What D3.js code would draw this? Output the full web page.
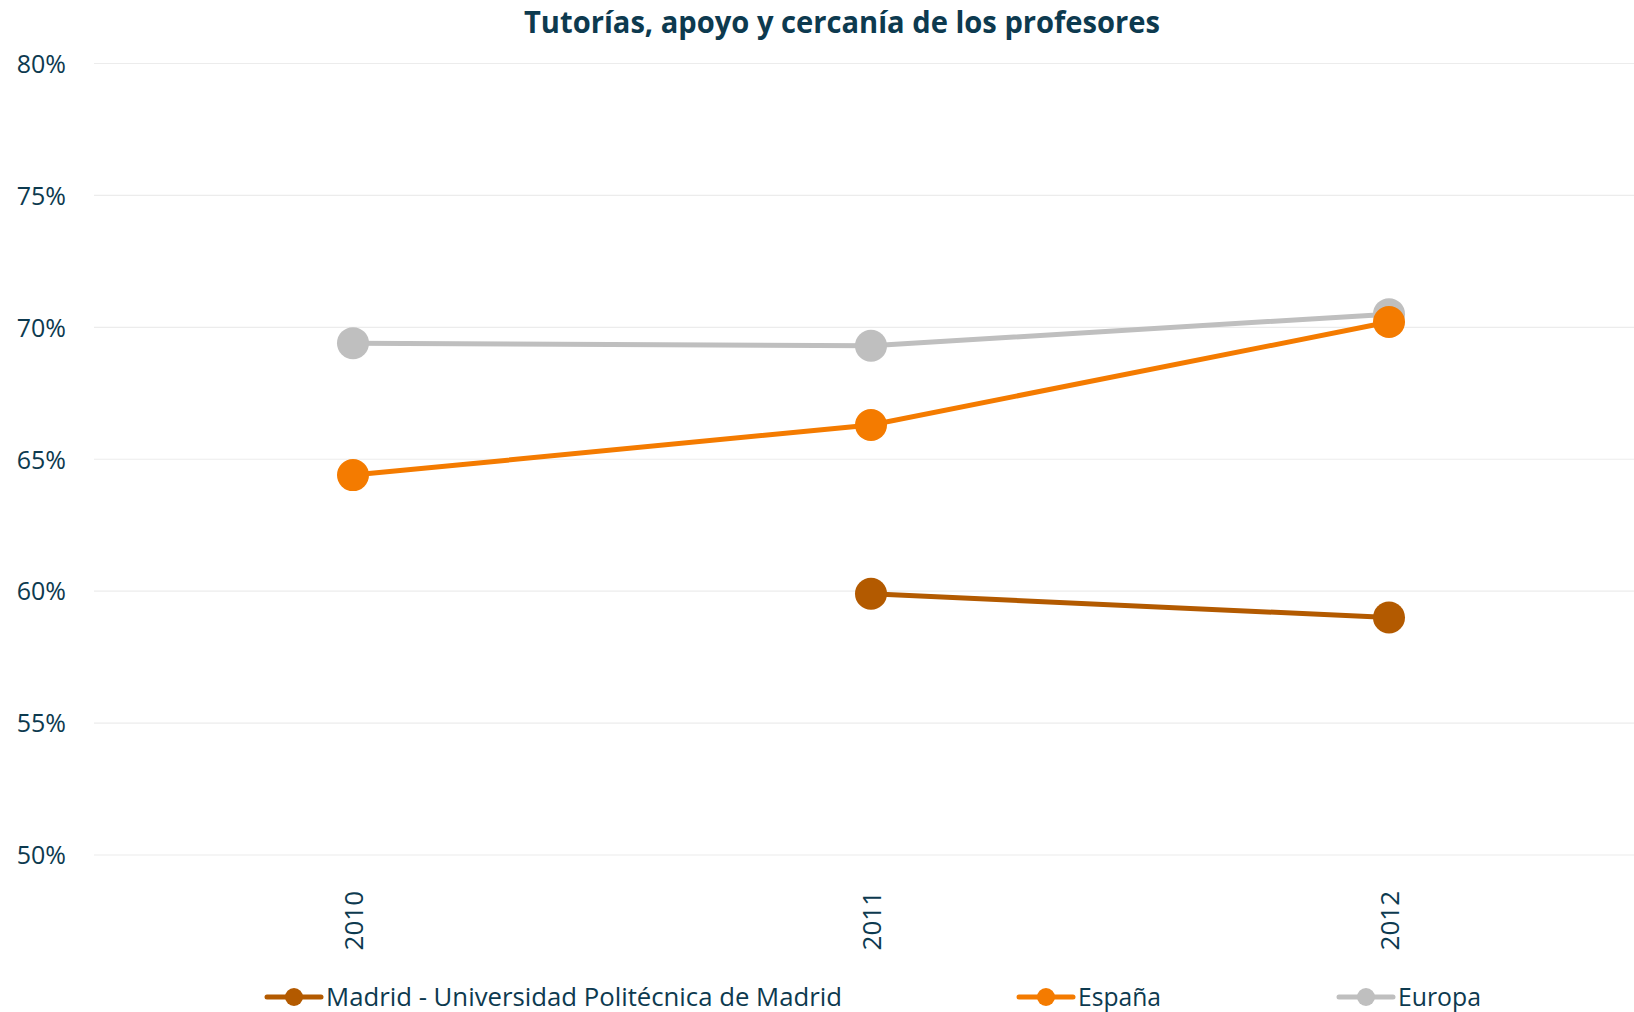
<!DOCTYPE html>
<html><head><meta charset="utf-8">
<script src="https://cdn.jsdelivr.net/npm/d3@7"></script>
<style>
html,body{margin:0;padding:0;background:#fff;}
svg{display:block;}
</style></head>
<body>
<svg id="chart" width="1634" height="1012"></svg>
<script>
const title = "Tutorías, apoyo y cercanía de los profesores";
const years = ["2010", "2011", "2012"];
const seriesNames = ["Madrid - Universidad Politécnica de Madrid", "España", "Europa"];
const seriesColors = ["#B35A00", "#F47B00", "#BFBFBF"];
const madridValues = [null, 59.9, 59.0];
const espanaValues = [64.4, 66.3, 70.2];
const europaValues = [69.4, 69.3, 70.5];
const yTicks = [50, 55, 60, 65, 70, 75, 80];

const textColor = "#0D3A4F";
const svg = d3.select("#chart");
const W = 1634, H = 1012;
const margin = {left: 94, right: -14, top: 63.5, bottom: 157};

const x = d3.scalePoint().domain(years).range([margin.left, W - margin.right]).padding(0.5);
const y = d3.scaleLinear().domain([50, 80]).range([H - margin.bottom, margin.top]);

// gridlines
svg.append("g").selectAll("line").data(yTicks).join("line")
  .attr("x1", margin.left).attr("x2", W)
  .attr("y1", d => y(d)).attr("y2", d => y(d))
  .attr("stroke", "#ECECEC").attr("stroke-width", 1.2);

// y axis
const yAxis = d3.axisLeft(y).tickValues(yTicks).tickFormat(d => d + "%").tickSize(0).tickPadding(0);
const gy = svg.append("g").attr("transform", "translate(66,0)").call(yAxis);
gy.select(".domain").remove();
gy.selectAll("text").attr("font-family", "'Open Sans', sans-serif").attr("font-size", 25)
  .attr("fill", textColor).attr("dy", "0.35em");

// x axis
const xAxis = d3.axisBottom(x).tickSize(0).tickPadding(0);
const gx = svg.append("g").attr("transform", `translate(0,${H - margin.bottom})`).call(xAxis);
gx.select(".domain").remove();
gx.selectAll("text").attr("font-family", "'Open Sans', sans-serif").attr("font-size", 26)
  .attr("fill", textColor)
  .attr("text-anchor", "end").attr("dy", "0.35em").attr("dx", 0)
  .attr("transform", "translate(0,36) rotate(-90)")
  .attr("x", 0).attr("y", 0);

// title
svg.append("text").attr("x", 842).attr("y", 33).attr("text-anchor", "middle")
  .attr("font-family", "'Liberation Sans Narrow', 'Open Sans', sans-serif")
  .attr("font-weight", "bold").attr("font-size", 31).attr("fill", textColor)
  .attr("textLength", 636).attr("lengthAdjust", "spacingAndGlyphs")
  .text(title);

const allSeries = [madridValues, espanaValues, europaValues];
const drawOrder = [2, 1, 0];
const line = d3.line().defined(d => d.v != null).x(d => x(d.year)).y(d => y(d.v));

drawOrder.forEach(i => {
  const data = years.map((yr, j) => ({year: yr, v: allSeries[i][j]}));
  const g = svg.append("g");
  g.append("path").datum(data).attr("d", line).attr("fill", "none")
    .attr("stroke", seriesColors[i]).attr("stroke-width", 5);
  g.selectAll("circle").data(data.filter(d => d.v != null)).join("circle")
    .attr("cx", d => x(d.year)).attr("cy", d => y(d.v)).attr("r", 16)
    .attr("fill", seriesColors[i]);
});

// legend
const legendX = [267, 1019, 1339];
const legendTextW = [516, 83, 83];
const legendY = 997;
seriesNames.forEach((name, i) => {
  const g = svg.append("g").attr("transform", `translate(${legendX[i]},${legendY})`);
  g.append("line").attr("x1", 0).attr("x2", 54).attr("y1", 0).attr("y2", 0)
    .attr("stroke", seriesColors[i]).attr("stroke-width", 5).attr("stroke-linecap", "round");
  g.append("circle").attr("cx", 27).attr("cy", 0).attr("r", 9).attr("fill", seriesColors[i]);
  g.append("text").attr("x", 59).attr("y", 0).attr("dy", "0.35em")
    .attr("font-family", "'Open Sans', sans-serif").attr("font-size", 25.5)
    .attr("fill", textColor)
    .attr("textLength", legendTextW[i]).attr("lengthAdjust", "spacingAndGlyphs")
    .text(name);
});
</script>
</body></html>
